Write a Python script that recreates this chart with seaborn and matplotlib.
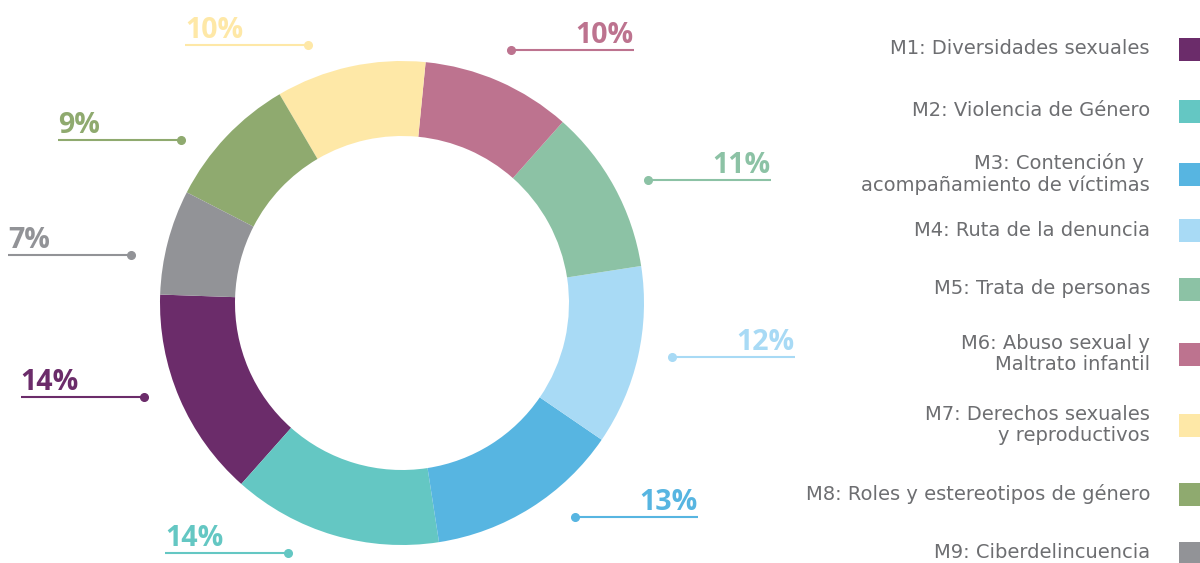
import matplotlib
matplotlib.use("Agg")
import matplotlib.pyplot as plt
import seaborn as sns
import numpy as np
from matplotlib.patches import Rectangle

# Data
modules = [
    "M1: Diversidades sexuales",
    "M2: Violencia de Género",
    "M3: Contención y \nacompañamiento de víctimas",
    "M4: Ruta de la denuncia",
    "M5: Trata de personas",
    "M6: Abuso sexual y\nMaltrato infantil",
    "M7: Derechos sexuales\ny reproductivos",
    "M8: Roles y estereotipos de género",
    "M9: Ciberdelincuencia",
]
shares = [14, 14, 13, 12, 11, 10, 10, 9, 7]
colors = ["#6b2c6a", "#64c7c3", "#57b5e1", "#a8daf5", "#8cc2a5",
          "#bd738f", "#fee8a7", "#8faa6f", "#929397"]

# Layout (pixels, y measured from top of image)
W, H = 1200, 563
center_x, center_y = 402, 303
outer_r, ring_w = 242, 75
label_angles = [200, 245.5, 309, 348.6, 26.6, 66.7, 110, 143.6, 170]
label_r, line_len = 275, 123
legend_rows = [49, 111, 174, 230, 289, 354, 425, 494, 553]

sns.set_theme(style="white")
plt.rcParams["font.family"] = ["Open Sans", "DejaVu Sans"]

fig = plt.figure(figsize=(12, 5.63), dpi=100)
ax = fig.add_axes([0, 0, 1, 1])

ax.pie(shares, colors=colors, startangle=178, counterclock=True,
       center=(center_x, H - center_y), radius=outer_r, frame=True,
       wedgeprops=dict(width=ring_w, linewidth=0))

# Percentage labels with leader lines
for val, col, ang in zip(shares, colors, label_angles):
    a = np.deg2rad(ang)
    dx = center_x + label_r * np.cos(a)
    dy = H - center_y + label_r * np.sin(a)
    left = np.cos(a) < 0
    ex = dx - line_len if left else dx + line_len
    ax.plot([dx, ex], [dy, dy], color=col, lw=1.5, solid_capstyle="butt")
    ax.plot(dx, dy, "o", color=col, ms=5.5)
    ax.text(ex, dy + 7, f"{val}%", color=col, fontsize=20.5, fontweight="bold",
            ha="left" if left else "right", va="baseline")

# Legend on the right
for name, col, yc in zip(modules, colors, legend_rows):
    ax.text(1150, H - yc, name, color="#6d6e71", fontsize=14,
            family=["DejaVu Sans"], ha="right", va="center",
            linespacing=1.1, multialignment="right")
    ax.add_patch(Rectangle((1179, H - yc - 11.5), 23, 23, color=col, lw=0))

ax.set_xlim(0, W)
ax.set_ylim(0, H)
ax.set_aspect("equal")
ax.axis("off")

fig.savefig("out.png", dpi=100, facecolor="white")
